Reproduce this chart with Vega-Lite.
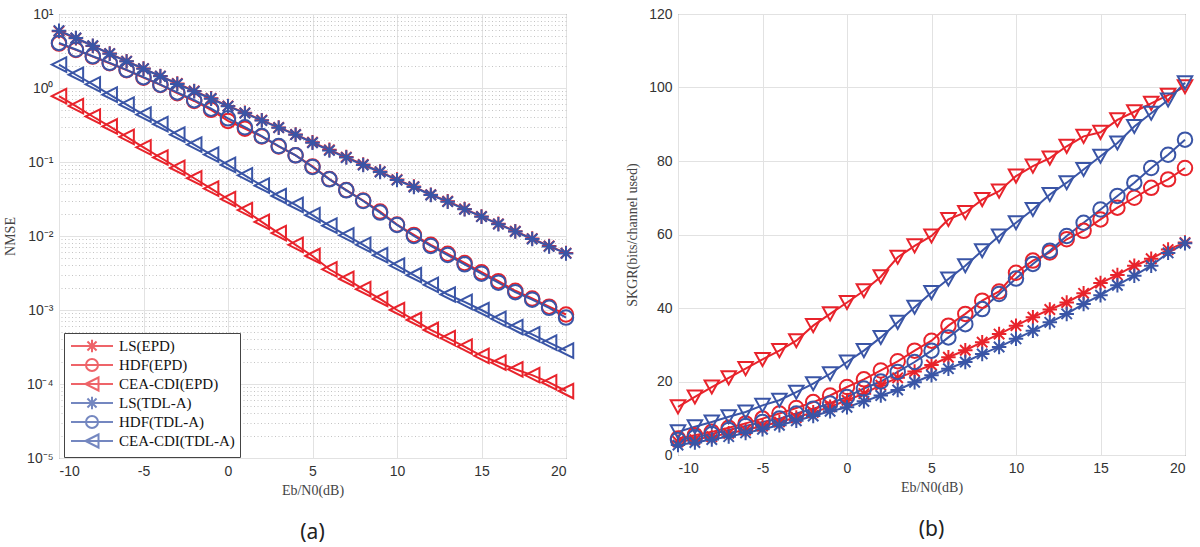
{
  "$schema": "https://vega.github.io/schema/vega-lite/v6.json",
  "background": "white",
  "padding": {"left": 2, "top": 6, "right": 4, "bottom": 4},
  "spacing": 47,
  "config": {
    "view": {"stroke": "#555555", "strokeWidth": 1},
    "axis": {
      "labelFont": "Liberation Sans",
      "labelFontSize": 14,
      "labelColor": "#333333",
      "titleFont": "Liberation Serif",
      "titleFontSize": 14,
      "titleFontWeight": "normal",
      "titleColor": "#444444",
      "gridColor": "#e2e2e2",
      "domain": false,
      "ticks": false,
      "labelPadding": 6
    },
    "title": {"font": "Noto Sans", "fontSize": 21, "fontWeight": "normal", "color": "#222222"}
  },
  "resolve": {
    "scale": {"color": "independent", "shape": "independent"},
    "legend": {"color": "independent", "shape": "independent"}
  },
  "datasets": {
    "nmse": [
      {"snr": -10, "method": "LS(EPD)", "nmse": 5.85}, {"snr": -9, "method": "LS(EPD)", "nmse": 4.70}, {"snr": -8, "method": "LS(EPD)", "nmse": 3.70}, {"snr": -7, "method": "LS(EPD)", "nmse": 2.92}, {"snr": -6, "method": "LS(EPD)", "nmse": 2.30}, {"snr": -5, "method": "LS(EPD)", "nmse": 1.83}, {"snr": -4, "method": "LS(EPD)", "nmse": 1.45}, {"snr": -3, "method": "LS(EPD)", "nmse": 1.15}, {"snr": -2, "method": "LS(EPD)", "nmse": 0.91}, {"snr": -1, "method": "LS(EPD)", "nmse": 0.725}, {"snr": 0, "method": "LS(EPD)", "nmse": 0.572}, {"snr": 1, "method": "LS(EPD)", "nmse": 0.462}, {"snr": 2, "method": "LS(EPD)", "nmse": 0.368}, {"snr": 3, "method": "LS(EPD)", "nmse": 0.293}, {"snr": 4, "method": "LS(EPD)", "nmse": 0.236}, {"snr": 5, "method": "LS(EPD)", "nmse": 0.185}, {"snr": 6, "method": "LS(EPD)", "nmse": 0.146}, {"snr": 7, "method": "LS(EPD)", "nmse": 0.1165}, {"snr": 8, "method": "LS(EPD)", "nmse": 0.0925}, {"snr": 9, "method": "LS(EPD)", "nmse": 0.0742}, {"snr": 10, "method": "LS(EPD)", "nmse": 0.0578}, {"snr": 11, "method": "LS(EPD)", "nmse": 0.0465}, {"snr": 12, "method": "LS(EPD)", "nmse": 0.0362}, {"snr": 13, "method": "LS(EPD)", "nmse": 0.0295}, {"snr": 14, "method": "LS(EPD)", "nmse": 0.0232}, {"snr": 15, "method": "LS(EPD)", "nmse": 0.0184}, {"snr": 16, "method": "LS(EPD)", "nmse": 0.0146}, {"snr": 17, "method": "LS(EPD)", "nmse": 0.0116}, {"snr": 18, "method": "LS(EPD)", "nmse": 0.00922}, {"snr": 19, "method": "LS(EPD)", "nmse": 0.00732}, {"snr": 20, "method": "LS(EPD)", "nmse": 0.00588},
      {"snr": -10, "method": "HDF(EPD)", "nmse": 3.98}, {"snr": -9, "method": "HDF(EPD)", "nmse": 3.27}, {"snr": -8, "method": "HDF(EPD)", "nmse": 2.66}, {"snr": -7, "method": "HDF(EPD)", "nmse": 2.16}, {"snr": -6, "method": "HDF(EPD)", "nmse": 1.74}, {"snr": -5, "method": "HDF(EPD)", "nmse": 1.38}, {"snr": -4, "method": "HDF(EPD)", "nmse": 1.10}, {"snr": -3, "method": "HDF(EPD)", "nmse": 0.851}, {"snr": -2, "method": "HDF(EPD)", "nmse": 0.668}, {"snr": -1, "method": "HDF(EPD)", "nmse": 0.507}, {"snr": 0, "method": "HDF(EPD)", "nmse": 0.359}, {"snr": 1, "method": "HDF(EPD)", "nmse": 0.282}, {"snr": 2, "method": "HDF(EPD)", "nmse": 0.221}, {"snr": 3, "method": "HDF(EPD)", "nmse": 0.162}, {"snr": 4, "method": "HDF(EPD)", "nmse": 0.123}, {"snr": 5, "method": "HDF(EPD)", "nmse": 0.0871}, {"snr": 6, "method": "HDF(EPD)", "nmse": 0.0589}, {"snr": 7, "method": "HDF(EPD)", "nmse": 0.0417}, {"snr": 8, "method": "HDF(EPD)", "nmse": 0.0302}, {"snr": 9, "method": "HDF(EPD)", "nmse": 0.0214}, {"snr": 10, "method": "HDF(EPD)", "nmse": 0.0143}, {"snr": 11, "method": "HDF(EPD)", "nmse": 0.01035}, {"snr": 12, "method": "HDF(EPD)", "nmse": 0.00759}, {"snr": 13, "method": "HDF(EPD)", "nmse": 0.00575}, {"snr": 14, "method": "HDF(EPD)", "nmse": 0.00432}, {"snr": 15, "method": "HDF(EPD)", "nmse": 0.00324}, {"snr": 16, "method": "HDF(EPD)", "nmse": 0.00245}, {"snr": 17, "method": "HDF(EPD)", "nmse": 0.00182}, {"snr": 18, "method": "HDF(EPD)", "nmse": 0.00143}, {"snr": 19, "method": "HDF(EPD)", "nmse": 0.00111}, {"snr": 20, "method": "HDF(EPD)", "nmse": 0.00087},
      {"snr": -10, "method": "CEA-CDI(EPD)", "nmse": 0.776}, {"snr": -9, "method": "CEA-CDI(EPD)", "nmse": 0.569}, {"snr": -8, "method": "CEA-CDI(EPD)", "nmse": 0.412}, {"snr": -7, "method": "CEA-CDI(EPD)", "nmse": 0.302}, {"snr": -6, "method": "CEA-CDI(EPD)", "nmse": 0.219}, {"snr": -5, "method": "CEA-CDI(EPD)", "nmse": 0.158}, {"snr": -4, "method": "CEA-CDI(EPD)", "nmse": 0.115}, {"snr": -3, "method": "CEA-CDI(EPD)", "nmse": 0.0832}, {"snr": -2, "method": "CEA-CDI(EPD)", "nmse": 0.0603}, {"snr": -1, "method": "CEA-CDI(EPD)", "nmse": 0.0437}, {"snr": 0, "method": "CEA-CDI(EPD)", "nmse": 0.0316}, {"snr": 1, "method": "CEA-CDI(EPD)", "nmse": 0.0224}, {"snr": 2, "method": "CEA-CDI(EPD)", "nmse": 0.0155}, {"snr": 3, "method": "CEA-CDI(EPD)", "nmse": 0.01096}, {"snr": 4, "method": "CEA-CDI(EPD)", "nmse": 0.00759}, {"snr": 5, "method": "CEA-CDI(EPD)", "nmse": 0.00537}, {"snr": 6, "method": "CEA-CDI(EPD)", "nmse": 0.00355}, {"snr": 7, "method": "CEA-CDI(EPD)", "nmse": 0.00263}, {"snr": 8, "method": "CEA-CDI(EPD)", "nmse": 0.00191}, {"snr": 9, "method": "CEA-CDI(EPD)", "nmse": 0.00141}, {"snr": 10, "method": "CEA-CDI(EPD)", "nmse": 0.0010}, {"snr": 11, "method": "CEA-CDI(EPD)", "nmse": 0.000733}, {"snr": 12, "method": "CEA-CDI(EPD)", "nmse": 0.000537}, {"snr": 13, "method": "CEA-CDI(EPD)", "nmse": 0.000417}, {"snr": 14, "method": "CEA-CDI(EPD)", "nmse": 0.00032}, {"snr": 15, "method": "CEA-CDI(EPD)", "nmse": 0.00024}, {"snr": 16, "method": "CEA-CDI(EPD)", "nmse": 0.000195}, {"snr": 17, "method": "CEA-CDI(EPD)", "nmse": 0.000158}, {"snr": 18, "method": "CEA-CDI(EPD)", "nmse": 0.000132}, {"snr": 19, "method": "CEA-CDI(EPD)", "nmse": 0.000105}, {"snr": 20, "method": "CEA-CDI(EPD)", "nmse": 0.0000804},
      {"snr": -10, "method": "LS(TDL-A)", "nmse": 5.96}, {"snr": -9, "method": "LS(TDL-A)", "nmse": 4.74}, {"snr": -8, "method": "LS(TDL-A)", "nmse": 3.72}, {"snr": -7, "method": "LS(TDL-A)", "nmse": 2.90}, {"snr": -6, "method": "LS(TDL-A)", "nmse": 2.29}, {"snr": -5, "method": "LS(TDL-A)", "nmse": 1.82}, {"snr": -4, "method": "LS(TDL-A)", "nmse": 1.44}, {"snr": -3, "method": "LS(TDL-A)", "nmse": 1.135}, {"snr": -2, "method": "LS(TDL-A)", "nmse": 0.902}, {"snr": -1, "method": "LS(TDL-A)", "nmse": 0.716}, {"snr": 0, "method": "LS(TDL-A)", "nmse": 0.565}, {"snr": 1, "method": "LS(TDL-A)", "nmse": 0.457}, {"snr": 2, "method": "LS(TDL-A)", "nmse": 0.363}, {"snr": 3, "method": "LS(TDL-A)", "nmse": 0.291}, {"snr": 4, "method": "LS(TDL-A)", "nmse": 0.234}, {"snr": 5, "method": "LS(TDL-A)", "nmse": 0.182}, {"snr": 6, "method": "LS(TDL-A)", "nmse": 0.1435}, {"snr": 7, "method": "LS(TDL-A)", "nmse": 0.1146}, {"snr": 8, "method": "LS(TDL-A)", "nmse": 0.0912}, {"snr": 9, "method": "LS(TDL-A)", "nmse": 0.0733}, {"snr": 10, "method": "LS(TDL-A)", "nmse": 0.0569}, {"snr": 11, "method": "LS(TDL-A)", "nmse": 0.0459}, {"snr": 12, "method": "LS(TDL-A)", "nmse": 0.0358}, {"snr": 13, "method": "LS(TDL-A)", "nmse": 0.0291}, {"snr": 14, "method": "LS(TDL-A)", "nmse": 0.0229}, {"snr": 15, "method": "LS(TDL-A)", "nmse": 0.01824}, {"snr": 16, "method": "LS(TDL-A)", "nmse": 0.01445}, {"snr": 17, "method": "LS(TDL-A)", "nmse": 0.01148}, {"snr": 18, "method": "LS(TDL-A)", "nmse": 0.00912}, {"snr": 19, "method": "LS(TDL-A)", "nmse": 0.00724}, {"snr": 20, "method": "LS(TDL-A)", "nmse": 0.00582},
      {"snr": -10, "method": "HDF(TDL-A)", "nmse": 4.07}, {"snr": -9, "method": "HDF(TDL-A)", "nmse": 3.31}, {"snr": -8, "method": "HDF(TDL-A)", "nmse": 2.69}, {"snr": -7, "method": "HDF(TDL-A)", "nmse": 2.19}, {"snr": -6, "method": "HDF(TDL-A)", "nmse": 1.76}, {"snr": -5, "method": "HDF(TDL-A)", "nmse": 1.40}, {"snr": -4, "method": "HDF(TDL-A)", "nmse": 1.11}, {"snr": -3, "method": "HDF(TDL-A)", "nmse": 0.871}, {"snr": -2, "method": "HDF(TDL-A)", "nmse": 0.684}, {"snr": -1, "method": "HDF(TDL-A)", "nmse": 0.525}, {"snr": 0, "method": "HDF(TDL-A)", "nmse": 0.389}, {"snr": 1, "method": "HDF(TDL-A)", "nmse": 0.295}, {"snr": 2, "method": "HDF(TDL-A)", "nmse": 0.224}, {"snr": 3, "method": "HDF(TDL-A)", "nmse": 0.164}, {"snr": 4, "method": "HDF(TDL-A)", "nmse": 0.123}, {"snr": 5, "method": "HDF(TDL-A)", "nmse": 0.0855}, {"snr": 6, "method": "HDF(TDL-A)", "nmse": 0.0583}, {"snr": 7, "method": "HDF(TDL-A)", "nmse": 0.0414}, {"snr": 8, "method": "HDF(TDL-A)", "nmse": 0.0297}, {"snr": 9, "method": "HDF(TDL-A)", "nmse": 0.0207}, {"snr": 10, "method": "HDF(TDL-A)", "nmse": 0.0141}, {"snr": 11, "method": "HDF(TDL-A)", "nmse": 0.0100}, {"snr": 12, "method": "HDF(TDL-A)", "nmse": 0.00733}, {"snr": 13, "method": "HDF(TDL-A)", "nmse": 0.00553}, {"snr": 14, "method": "HDF(TDL-A)", "nmse": 0.00414}, {"snr": 15, "method": "HDF(TDL-A)", "nmse": 0.00310}, {"snr": 16, "method": "HDF(TDL-A)", "nmse": 0.00234}, {"snr": 17, "method": "HDF(TDL-A)", "nmse": 0.00174}, {"snr": 18, "method": "HDF(TDL-A)", "nmse": 0.00138}, {"snr": 19, "method": "HDF(TDL-A)", "nmse": 0.00107}, {"snr": 20, "method": "HDF(TDL-A)", "nmse": 0.00079},
      {"snr": -10, "method": "CEA-CDI(TDL-A)", "nmse": 2.07}, {"snr": -9, "method": "CEA-CDI(TDL-A)", "nmse": 1.51}, {"snr": -8, "method": "CEA-CDI(TDL-A)", "nmse": 1.12}, {"snr": -7, "method": "CEA-CDI(TDL-A)", "nmse": 0.813}, {"snr": -6, "method": "CEA-CDI(TDL-A)", "nmse": 0.596}, {"snr": -5, "method": "CEA-CDI(TDL-A)", "nmse": 0.437}, {"snr": -4, "method": "CEA-CDI(TDL-A)", "nmse": 0.324}, {"snr": -3, "method": "CEA-CDI(TDL-A)", "nmse": 0.234}, {"snr": -2, "method": "CEA-CDI(TDL-A)", "nmse": 0.172}, {"snr": -1, "method": "CEA-CDI(TDL-A)", "nmse": 0.126}, {"snr": 0, "method": "CEA-CDI(TDL-A)", "nmse": 0.0912}, {"snr": 1, "method": "CEA-CDI(TDL-A)", "nmse": 0.0661}, {"snr": 2, "method": "CEA-CDI(TDL-A)", "nmse": 0.0479}, {"snr": 3, "method": "CEA-CDI(TDL-A)", "nmse": 0.0347}, {"snr": 4, "method": "CEA-CDI(TDL-A)", "nmse": 0.0263}, {"snr": 5, "method": "CEA-CDI(TDL-A)", "nmse": 0.0191}, {"snr": 6, "method": "CEA-CDI(TDL-A)", "nmse": 0.0138}, {"snr": 7, "method": "CEA-CDI(TDL-A)", "nmse": 0.0102}, {"snr": 8, "method": "CEA-CDI(TDL-A)", "nmse": 0.00759}, {"snr": 9, "method": "CEA-CDI(TDL-A)", "nmse": 0.0055}, {"snr": 10, "method": "CEA-CDI(TDL-A)", "nmse": 0.00398}, {"snr": 11, "method": "CEA-CDI(TDL-A)", "nmse": 0.00295}, {"snr": 12, "method": "CEA-CDI(TDL-A)", "nmse": 0.00219}, {"snr": 13, "method": "CEA-CDI(TDL-A)", "nmse": 0.00162}, {"snr": 14, "method": "CEA-CDI(TDL-A)", "nmse": 0.00129}, {"snr": 15, "method": "CEA-CDI(TDL-A)", "nmse": 0.001}, {"snr": 16, "method": "CEA-CDI(TDL-A)", "nmse": 0.000759}, {"snr": 17, "method": "CEA-CDI(TDL-A)", "nmse": 0.000589}, {"snr": 18, "method": "CEA-CDI(TDL-A)", "nmse": 0.000468}, {"snr": 19, "method": "CEA-CDI(TDL-A)", "nmse": 0.000363}, {"snr": 20, "method": "CEA-CDI(TDL-A)", "nmse": 0.000282}
    ],
    "skgr": [
      {"snr": -10, "method": "LS(EPD)", "skgr": 3.6}, {"snr": -9, "method": "LS(EPD)", "skgr": 4.2}, {"snr": -8, "method": "LS(EPD)", "skgr": 5.0}, {"snr": -7, "method": "LS(EPD)", "skgr": 5.9}, {"snr": -6, "method": "LS(EPD)", "skgr": 6.8}, {"snr": -5, "method": "LS(EPD)", "skgr": 7.9}, {"snr": -4, "method": "LS(EPD)", "skgr": 9.0}, {"snr": -3, "method": "LS(EPD)", "skgr": 10.2}, {"snr": -2, "method": "LS(EPD)", "skgr": 11.6}, {"snr": -1, "method": "LS(EPD)", "skgr": 13.1}, {"snr": 0, "method": "LS(EPD)", "skgr": 14.9}, {"snr": 1, "method": "LS(EPD)", "skgr": 16.7}, {"snr": 2, "method": "LS(EPD)", "skgr": 19.0}, {"snr": 3, "method": "LS(EPD)", "skgr": 21.0}, {"snr": 4, "method": "LS(EPD)", "skgr": 22.7}, {"snr": 5, "method": "LS(EPD)", "skgr": 24.5}, {"snr": 6, "method": "LS(EPD)", "skgr": 26.6}, {"snr": 7, "method": "LS(EPD)", "skgr": 28.5}, {"snr": 8, "method": "LS(EPD)", "skgr": 30.7}, {"snr": 9, "method": "LS(EPD)", "skgr": 32.9}, {"snr": 10, "method": "LS(EPD)", "skgr": 35.2}, {"snr": 11, "method": "LS(EPD)", "skgr": 37.5}, {"snr": 12, "method": "LS(EPD)", "skgr": 39.6}, {"snr": 13, "method": "LS(EPD)", "skgr": 41.5}, {"snr": 14, "method": "LS(EPD)", "skgr": 44.0}, {"snr": 15, "method": "LS(EPD)", "skgr": 46.8}, {"snr": 16, "method": "LS(EPD)", "skgr": 49.0}, {"snr": 17, "method": "LS(EPD)", "skgr": 51.5}, {"snr": 18, "method": "LS(EPD)", "skgr": 53.4}, {"snr": 19, "method": "LS(EPD)", "skgr": 55.9}, {"snr": 20, "method": "LS(EPD)", "skgr": 57.8},
      {"snr": -10, "method": "HDF(EPD)", "skgr": 4.5}, {"snr": -9, "method": "HDF(EPD)", "skgr": 5.4}, {"snr": -8, "method": "HDF(EPD)", "skgr": 6.3}, {"snr": -7, "method": "HDF(EPD)", "skgr": 7.4}, {"snr": -6, "method": "HDF(EPD)", "skgr": 8.6}, {"snr": -5, "method": "HDF(EPD)", "skgr": 9.9}, {"snr": -4, "method": "HDF(EPD)", "skgr": 11.3}, {"snr": -3, "method": "HDF(EPD)", "skgr": 12.8}, {"snr": -2, "method": "HDF(EPD)", "skgr": 14.4}, {"snr": -1, "method": "HDF(EPD)", "skgr": 16.2}, {"snr": 0, "method": "HDF(EPD)", "skgr": 18.5}, {"snr": 1, "method": "HDF(EPD)", "skgr": 20.6}, {"snr": 2, "method": "HDF(EPD)", "skgr": 23.0}, {"snr": 3, "method": "HDF(EPD)", "skgr": 25.5}, {"snr": 4, "method": "HDF(EPD)", "skgr": 28.4}, {"snr": 5, "method": "HDF(EPD)", "skgr": 31.1}, {"snr": 6, "method": "HDF(EPD)", "skgr": 35.2}, {"snr": 7, "method": "HDF(EPD)", "skgr": 38.4}, {"snr": 8, "method": "HDF(EPD)", "skgr": 42.0}, {"snr": 9, "method": "HDF(EPD)", "skgr": 44.5}, {"snr": 10, "method": "HDF(EPD)", "skgr": 49.6}, {"snr": 11, "method": "HDF(EPD)", "skgr": 52.9}, {"snr": 12, "method": "HDF(EPD)", "skgr": 55.1}, {"snr": 13, "method": "HDF(EPD)", "skgr": 58.7}, {"snr": 14, "method": "HDF(EPD)", "skgr": 61.0}, {"snr": 15, "method": "HDF(EPD)", "skgr": 64.1}, {"snr": 16, "method": "HDF(EPD)", "skgr": 67.3}, {"snr": 17, "method": "HDF(EPD)", "skgr": 70.0}, {"snr": 18, "method": "HDF(EPD)", "skgr": 72.7}, {"snr": 19, "method": "HDF(EPD)", "skgr": 75.0}, {"snr": 20, "method": "HDF(EPD)", "skgr": 78.1},
      {"snr": -10, "method": "CEA-CDI(EPD)", "skgr": 13.1}, {"snr": -9, "method": "CEA-CDI(EPD)", "skgr": 15.8}, {"snr": -8, "method": "CEA-CDI(EPD)", "skgr": 18.5}, {"snr": -7, "method": "CEA-CDI(EPD)", "skgr": 21.0}, {"snr": -6, "method": "CEA-CDI(EPD)", "skgr": 23.5}, {"snr": -5, "method": "CEA-CDI(EPD)", "skgr": 26.0}, {"snr": -4, "method": "CEA-CDI(EPD)", "skgr": 28.4}, {"snr": -3, "method": "CEA-CDI(EPD)", "skgr": 31.1}, {"snr": -2, "method": "CEA-CDI(EPD)", "skgr": 35.2}, {"snr": -1, "method": "CEA-CDI(EPD)", "skgr": 38.4}, {"snr": 0, "method": "CEA-CDI(EPD)", "skgr": 41.5}, {"snr": 1, "method": "CEA-CDI(EPD)", "skgr": 44.7}, {"snr": 2, "method": "CEA-CDI(EPD)", "skgr": 48.5}, {"snr": 3, "method": "CEA-CDI(EPD)", "skgr": 53.8}, {"snr": 4, "method": "CEA-CDI(EPD)", "skgr": 56.9}, {"snr": 5, "method": "CEA-CDI(EPD)", "skgr": 59.6}, {"snr": 6, "method": "CEA-CDI(EPD)", "skgr": 64.1}, {"snr": 7, "method": "CEA-CDI(EPD)", "skgr": 66.0}, {"snr": 8, "method": "CEA-CDI(EPD)", "skgr": 69.5}, {"snr": 9, "method": "CEA-CDI(EPD)", "skgr": 71.8}, {"snr": 10, "method": "CEA-CDI(EPD)", "skgr": 75.9}, {"snr": 11, "method": "CEA-CDI(EPD)", "skgr": 78.6}, {"snr": 12, "method": "CEA-CDI(EPD)", "skgr": 80.8}, {"snr": 13, "method": "CEA-CDI(EPD)", "skgr": 84.0}, {"snr": 14, "method": "CEA-CDI(EPD)", "skgr": 86.7}, {"snr": 15, "method": "CEA-CDI(EPD)", "skgr": 87.8}, {"snr": 16, "method": "CEA-CDI(EPD)", "skgr": 91.2}, {"snr": 17, "method": "CEA-CDI(EPD)", "skgr": 93.4}, {"snr": 18, "method": "CEA-CDI(EPD)", "skgr": 95.7}, {"snr": 19, "method": "CEA-CDI(EPD)", "skgr": 97.9}, {"snr": 20, "method": "CEA-CDI(EPD)", "skgr": 100.2},
      {"snr": -10, "method": "LS(TDL-A)", "skgr": 2.7}, {"snr": -9, "method": "LS(TDL-A)", "skgr": 3.4}, {"snr": -8, "method": "LS(TDL-A)", "skgr": 4.2}, {"snr": -7, "method": "LS(TDL-A)", "skgr": 5.0}, {"snr": -6, "method": "LS(TDL-A)", "skgr": 6.0}, {"snr": -5, "method": "LS(TDL-A)", "skgr": 7.0}, {"snr": -4, "method": "LS(TDL-A)", "skgr": 8.1}, {"snr": -3, "method": "LS(TDL-A)", "skgr": 9.3}, {"snr": -2, "method": "LS(TDL-A)", "skgr": 10.6}, {"snr": -1, "method": "LS(TDL-A)", "skgr": 11.9}, {"snr": 0, "method": "LS(TDL-A)", "skgr": 13.0}, {"snr": 1, "method": "LS(TDL-A)", "skgr": 14.6}, {"snr": 2, "method": "LS(TDL-A)", "skgr": 16.2}, {"snr": 3, "method": "LS(TDL-A)", "skgr": 17.7}, {"snr": 4, "method": "LS(TDL-A)", "skgr": 19.8}, {"snr": 5, "method": "LS(TDL-A)", "skgr": 21.7}, {"snr": 6, "method": "LS(TDL-A)", "skgr": 23.5}, {"snr": 7, "method": "LS(TDL-A)", "skgr": 25.3}, {"snr": 8, "method": "LS(TDL-A)", "skgr": 27.5}, {"snr": 9, "method": "LS(TDL-A)", "skgr": 29.4}, {"snr": 10, "method": "LS(TDL-A)", "skgr": 31.6}, {"snr": 11, "method": "LS(TDL-A)", "skgr": 33.8}, {"snr": 12, "method": "LS(TDL-A)", "skgr": 36.1}, {"snr": 13, "method": "LS(TDL-A)", "skgr": 38.4}, {"snr": 14, "method": "LS(TDL-A)", "skgr": 41.1}, {"snr": 15, "method": "LS(TDL-A)", "skgr": 43.5}, {"snr": 16, "method": "LS(TDL-A)", "skgr": 46.2}, {"snr": 17, "method": "LS(TDL-A)", "skgr": 48.8}, {"snr": 18, "method": "LS(TDL-A)", "skgr": 51.5}, {"snr": 19, "method": "LS(TDL-A)", "skgr": 55.0}, {"snr": 20, "method": "LS(TDL-A)", "skgr": 57.6},
      {"snr": -10, "method": "HDF(TDL-A)", "skgr": 4.1}, {"snr": -9, "method": "HDF(TDL-A)", "skgr": 4.8}, {"snr": -8, "method": "HDF(TDL-A)", "skgr": 5.7}, {"snr": -7, "method": "HDF(TDL-A)", "skgr": 6.8}, {"snr": -6, "method": "HDF(TDL-A)", "skgr": 7.9}, {"snr": -5, "method": "HDF(TDL-A)", "skgr": 9.0}, {"snr": -4, "method": "HDF(TDL-A)", "skgr": 9.9}, {"snr": -3, "method": "HDF(TDL-A)", "skgr": 11.3}, {"snr": -2, "method": "HDF(TDL-A)", "skgr": 12.6}, {"snr": -1, "method": "HDF(TDL-A)", "skgr": 14.0}, {"snr": 0, "method": "HDF(TDL-A)", "skgr": 15.8}, {"snr": 1, "method": "HDF(TDL-A)", "skgr": 18.1}, {"snr": 2, "method": "HDF(TDL-A)", "skgr": 20.0}, {"snr": 3, "method": "HDF(TDL-A)", "skgr": 22.6}, {"snr": 4, "method": "HDF(TDL-A)", "skgr": 25.3}, {"snr": 5, "method": "HDF(TDL-A)", "skgr": 28.4}, {"snr": 6, "method": "HDF(TDL-A)", "skgr": 32.0}, {"snr": 7, "method": "HDF(TDL-A)", "skgr": 35.6}, {"snr": 8, "method": "HDF(TDL-A)", "skgr": 39.7}, {"snr": 9, "method": "HDF(TDL-A)", "skgr": 43.8}, {"snr": 10, "method": "HDF(TDL-A)", "skgr": 48.0}, {"snr": 11, "method": "HDF(TDL-A)", "skgr": 52.0}, {"snr": 12, "method": "HDF(TDL-A)", "skgr": 55.6}, {"snr": 13, "method": "HDF(TDL-A)", "skgr": 59.6}, {"snr": 14, "method": "HDF(TDL-A)", "skgr": 63.2}, {"snr": 15, "method": "HDF(TDL-A)", "skgr": 66.8}, {"snr": 16, "method": "HDF(TDL-A)", "skgr": 70.5}, {"snr": 17, "method": "HDF(TDL-A)", "skgr": 74.1}, {"snr": 18, "method": "HDF(TDL-A)", "skgr": 78.1}, {"snr": 19, "method": "HDF(TDL-A)", "skgr": 81.7}, {"snr": 20, "method": "HDF(TDL-A)", "skgr": 85.8},
      {"snr": -10, "method": "CEA-CDI(TDL-A)", "skgr": 6.3}, {"snr": -9, "method": "CEA-CDI(TDL-A)", "skgr": 7.7}, {"snr": -8, "method": "CEA-CDI(TDL-A)", "skgr": 9.0}, {"snr": -7, "method": "CEA-CDI(TDL-A)", "skgr": 10.4}, {"snr": -6, "method": "CEA-CDI(TDL-A)", "skgr": 11.7}, {"snr": -5, "method": "CEA-CDI(TDL-A)", "skgr": 13.5}, {"snr": -4, "method": "CEA-CDI(TDL-A)", "skgr": 14.9}, {"snr": -3, "method": "CEA-CDI(TDL-A)", "skgr": 17.1}, {"snr": -2, "method": "CEA-CDI(TDL-A)", "skgr": 19.4}, {"snr": -1, "method": "CEA-CDI(TDL-A)", "skgr": 22.1}, {"snr": 0, "method": "CEA-CDI(TDL-A)", "skgr": 25.3}, {"snr": 1, "method": "CEA-CDI(TDL-A)", "skgr": 28.4}, {"snr": 2, "method": "CEA-CDI(TDL-A)", "skgr": 32.0}, {"snr": 3, "method": "CEA-CDI(TDL-A)", "skgr": 36.1}, {"snr": 4, "method": "CEA-CDI(TDL-A)", "skgr": 40.2}, {"snr": 5, "method": "CEA-CDI(TDL-A)", "skgr": 44.2}, {"snr": 6, "method": "CEA-CDI(TDL-A)", "skgr": 47.9}, {"snr": 7, "method": "CEA-CDI(TDL-A)", "skgr": 51.5}, {"snr": 8, "method": "CEA-CDI(TDL-A)", "skgr": 55.6}, {"snr": 9, "method": "CEA-CDI(TDL-A)", "skgr": 59.6}, {"snr": 10, "method": "CEA-CDI(TDL-A)", "skgr": 63.2}, {"snr": 11, "method": "CEA-CDI(TDL-A)", "skgr": 66.8}, {"snr": 12, "method": "CEA-CDI(TDL-A)", "skgr": 70.9}, {"snr": 13, "method": "CEA-CDI(TDL-A)", "skgr": 74.1}, {"snr": 14, "method": "CEA-CDI(TDL-A)", "skgr": 77.7}, {"snr": 15, "method": "CEA-CDI(TDL-A)", "skgr": 81.3}, {"snr": 16, "method": "CEA-CDI(TDL-A)", "skgr": 84.9}, {"snr": 17, "method": "CEA-CDI(TDL-A)", "skgr": 89.4}, {"snr": 18, "method": "CEA-CDI(TDL-A)", "skgr": 93.0}, {"snr": 19, "method": "CEA-CDI(TDL-A)", "skgr": 96.6}, {"snr": 20, "method": "CEA-CDI(TDL-A)", "skgr": 101.3}
    ]
  },
  "hconcat": [
    {
      "width": 507,
      "height": 444,
      "title": {"text": "(a)", "orient": "bottom", "offset": 25},
      "data": {"name": "nmse"},
      "encoding": {
        "x": {
          "field": "snr",
          "type": "quantitative",
          "scale": {"domain": [-10, 20], "nice": false},
          "axis": {"values": [-10, -5, 0, 5, 10, 15, 20], "labelExpr": "replace(datum.label, '−', '-')", "title": "Eb/N0(dB)", "grid": true, "titlePadding": 5}
        }
      },
      "layer": [
        {
          "mark": {"type": "line", "strokeWidth": 2},
          "encoding": {
            "y": {
              "field": "nmse",
              "type": "quantitative",
              "scale": {"type": "log", "domain": [0.00001, 10], "nice": false},
              "axis": {
                "orient": "right",
                "values": [0.00002, 0.00003, 0.00004, 0.00005, 0.00006, 0.00007, 0.00008, 0.00009, 0.0002, 0.0003, 0.0004, 0.0005, 0.0006, 0.0007, 0.0008, 0.0009, 0.002, 0.003, 0.004, 0.005, 0.006, 0.007, 0.008, 0.009, 0.02, 0.03, 0.04, 0.05, 0.06, 0.07, 0.08, 0.09, 0.2, 0.3, 0.4, 0.5, 0.6, 0.7, 0.8, 0.9, 2, 3, 4, 5, 6, 7, 8, 9],
                "labels": false,
                "ticks": false,
                "domain": false,
                "title": null,
                "grid": true,
                "gridDash": [1, 2.5],
                "gridColor": "#c4c4c4"
              }
            },
            "color": {
              "field": "method",
              "type": "nominal",
              "scale": {"domain": ["LS(EPD)", "HDF(EPD)", "CEA-CDI(EPD)", "LS(TDL-A)", "HDF(TDL-A)", "CEA-CDI(TDL-A)"], "range": ["#e8232b", "#e8232b", "#e8232b", "#3a55a6", "#3a55a6", "#3a55a6"]},
              "legend": null
            }
          }
        },
        {
          "mark": {"type": "point", "filled": false, "strokeWidth": 2, "size": 210, "opacity": 1},
          "encoding": {
            "y": {
              "field": "nmse",
              "type": "quantitative",
              "axis": {
                "orient": "left",
                "values": [0.00001, 0.0001, 0.001, 0.01, 0.1, 1, 10],
                "labelExpr": "datum.value > 5 ? '10¹' : datum.value > 0.5 ? '10⁰' : datum.value > 0.05 ? '10⁻¹' : datum.value > 0.005 ? '10⁻²' : datum.value > 0.0005 ? '10⁻³' : datum.value > 0.00005 ? '10⁻⁴' : '10⁻⁵'",
                "title": "NMSE",
                "titlePadding": 9,
                "grid": true
              }
            },
            "color": {
              "field": "method",
              "type": "nominal",
              "scale": {"domain": ["LS(EPD)", "HDF(EPD)", "CEA-CDI(EPD)", "LS(TDL-A)", "HDF(TDL-A)", "CEA-CDI(TDL-A)"], "range": ["#e8232b", "#e8232b", "#e8232b", "#3a55a6", "#3a55a6", "#3a55a6"]},
              "legend": null
            },
            "shape": {
              "field": "method",
              "type": "nominal",
              "scale": {
                "domain": ["LS(EPD)", "HDF(EPD)", "CEA-CDI(EPD)", "LS(TDL-A)", "HDF(TDL-A)", "CEA-CDI(TDL-A)"],
                "range": [
                  "M-1,0L1,0M0,-1L0,1M-0.72,-0.72L0.72,0.72M-0.72,0.72L0.72,-0.72",
                  "circle",
                  "M-1,0L1,-1L1,1Z",
                  "M-1,0L1,0M0,-1L0,1M-0.72,-0.72L0.72,0.72M-0.72,0.72L0.72,-0.72",
                  "circle",
                  "M-1,0L1,-1L1,1Z"
                ]
              },
              "legend": null
            }
          }
        },
        {
          "transform": [{"filter": "datum.snr > 100"}],
          "mark": {"type": "point", "filled": false, "strokeWidth": 2},
          "encoding": {
            "y": {"field": "nmse", "type": "quantitative", "axis": null},
            "color": {
              "field": "method",
              "type": "nominal",
              "scale": {"domain": ["LS(EPD)", "HDF(EPD)", "CEA-CDI(EPD)", "LS(TDL-A)", "HDF(TDL-A)", "CEA-CDI(TDL-A)"], "range": ["#e8232b", "#e8232b", "#e8232b", "#3a55a6", "#3a55a6", "#3a55a6"]},
              "legend": {
                "orient": "none", "legendX": 5, "legendY": 319, "title": null,
                "labelFont": "Liberation Serif", "labelFontSize": 15, "labelColor": "#111111",
                "symbolSize": 196, "symbolStrokeWidth": 2, "symbolOffset": 15, "labelOffset": 19,
                "padding": 5, "rowPadding": -4.5, "strokeColor": "#444444", "fillColor": "white"
              }
            },
            "shape": {
              "field": "method",
              "type": "nominal",
              "scale": {
                "domain": ["LS(EPD)", "HDF(EPD)", "CEA-CDI(EPD)", "LS(TDL-A)", "HDF(TDL-A)", "CEA-CDI(TDL-A)"],
                "range": [
                  "M-3,0L3,0M0,-0.9L0,0.9M-0.65,-0.65L0.65,0.65M-0.65,0.65L0.65,-0.65",
                  "M-3,0L3,0M0.86,0A0.86,0.86 0 1,1 -0.86,0A0.86,0.86 0 1,1 0.86,0",
                  "M-3,0L3,0M-0.93,0L0.93,-0.93L0.93,0.93Z",
                  "M-3,0L3,0M0,-0.9L0,0.9M-0.65,-0.65L0.65,0.65M-0.65,0.65L0.65,-0.65",
                  "M-3,0L3,0M0.86,0A0.86,0.86 0 1,1 -0.86,0A0.86,0.86 0 1,1 0.86,0",
                  "M-3,0L3,0M-0.93,0L0.93,-0.93L0.93,0.93Z"
                ]
              },
              "legend": {
                "orient": "none", "legendX": 5, "legendY": 319, "title": null,
                "labelFont": "Liberation Serif", "labelFontSize": 15, "labelColor": "#111111",
                "symbolSize": 196, "symbolStrokeWidth": 2, "symbolOffset": 15, "labelOffset": 19,
                "padding": 5, "rowPadding": -4.5, "strokeColor": "#444444", "fillColor": "white"
              }
            }
          }
        }
      ],
      "resolve": {
        "scale": {"color": "independent", "shape": "independent"},
        "axis": {"y": "independent"}
      }
    },
    {
      "width": 507,
      "height": 441,
      "title": {"text": "(b)", "orient": "bottom", "offset": 25},
      "data": {"name": "skgr"},
      "encoding": {
        "x": {
          "field": "snr",
          "type": "quantitative",
          "scale": {"domain": [-10, 20], "nice": false},
          "axis": {"values": [-10, -5, 0, 5, 10, 15, 20], "labelExpr": "replace(datum.label, '−', '-')", "title": "Eb/N0(dB)", "grid": true, "titlePadding": 5}
        },
        "y": {
          "field": "skgr",
          "type": "quantitative",
          "scale": {"domain": [0, 120], "nice": false},
          "axis": {"values": [0, 20, 40, 60, 80, 100, 120], "title": "SKGR(bits/channel used)", "titlePadding": 9, "grid": true}
        },
        "color": {
          "field": "method",
          "type": "nominal",
          "scale": {"domain": ["LS(EPD)", "HDF(EPD)", "CEA-CDI(EPD)", "LS(TDL-A)", "HDF(TDL-A)", "CEA-CDI(TDL-A)"], "range": ["#e8232b", "#e8232b", "#e8232b", "#3a55a6", "#3a55a6", "#3a55a6"]},
          "legend": null
        }
      },
      "layer": [
        {"mark": {"type": "line", "strokeWidth": 2}},
        {
          "mark": {"type": "point", "filled": false, "strokeWidth": 2, "size": 210, "opacity": 1},
          "encoding": {
            "shape": {
              "field": "method",
              "type": "nominal",
              "scale": {
                "domain": ["LS(EPD)", "HDF(EPD)", "CEA-CDI(EPD)", "LS(TDL-A)", "HDF(TDL-A)", "CEA-CDI(TDL-A)"],
                "range": [
                  "M-1,0L1,0M0,-1L0,1M-0.72,-0.72L0.72,0.72M-0.72,0.72L0.72,-0.72",
                  "circle",
                  "M-1,-0.9L1,-0.9L0,0.9Z",
                  "M-1,0L1,0M0,-1L0,1M-0.72,-0.72L0.72,0.72M-0.72,0.72L0.72,-0.72",
                  "circle",
                  "M-1,-0.9L1,-0.9L0,0.9Z"
                ]
              },
              "legend": null
            }
          }
        }
      ]
    }
  ]
}
